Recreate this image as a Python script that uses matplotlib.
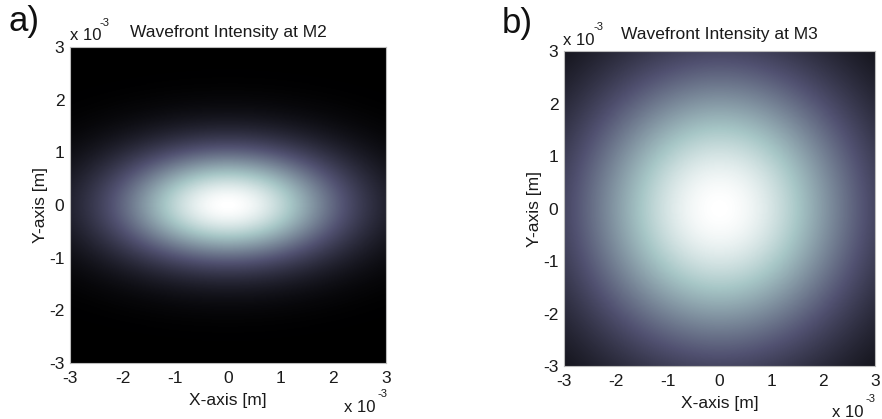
import numpy as np
import matplotlib
matplotlib.use("Agg")
import matplotlib.pyplot as plt

plt.rcParams['font.family'] = ['Liberation Sans', 'DejaVu Sans']

# --- data ---
tick_vals = [-3, -2, -1, 0, 1, 2, 3]          # in units of 1e-3 m
tick_labels = ['-3', '-2', '-1', '0', '1', '2', '3']
extent_mm = 3.0
titles = ['Wavefront Intensity at M2', 'Wavefront Intensity at M3']
panel_labels = ['a)', 'b)']
# Gaussian beam widths (1/e field radius, in 1e-3 m)
beam_wx = [2.2, 2.8]
beam_wy = [1.1, 2.8]

n = 300
coords = np.linspace(-extent_mm, extent_mm, n)
X, Y = np.meshgrid(coords, coords)

fig = plt.figure(figsize=(8.82, 4.19), dpi=100)
W, H = 882.0, 419.0
axes_px = [(70, 47, 386, 363), (564, 51, 875, 366)]  # left, top, right, bottom
label_px = [(8, 22), (502, 24)]
title_y = [32, 34]
top_off = [(70, 40, 26), (563, 45, 30)]       # x-left of "x 10", baselines
bot_off = [(376, 412, 397), (864, 417, 402)]  # x-right of "x 10", baselines
txt = '#1a1a1a'

def fy(py):
    return 1 - py / H

for i in range(2):
    l, t, r, b = axes_px[i]
    ax = fig.add_axes([l / W, 1 - b / H, (r - l) / W, (b - t) / H])
    I = np.exp(-(X / beam_wx[i]) ** 2 - (Y / beam_wy[i]) ** 2)
    ax.imshow(I, cmap='bone', origin='lower',
              extent=[-extent_mm, extent_mm, -extent_mm, extent_mm],
              vmin=0, vmax=1, aspect='auto', interpolation='bilinear')
    ax.set_xticks(tick_vals)
    ax.set_xticklabels(tick_labels)
    ax.set_yticks(tick_vals)
    ax.set_yticklabels(tick_labels)
    ax.tick_params(axis='x', direction='in', length=0, labelsize=12.5, pad=6, colors=txt)
    ax.tick_params(axis='y', direction='in', length=0, labelsize=12.5, pad=4, colors=txt)
    for s in ax.spines.values():
        s.set_color('#bbbbbb')
        s.set_linewidth(0.8)
    ax.set_xlabel('X-axis [m]', fontsize=12.5, labelpad=5, color=txt)
    ax.set_ylabel('Y-axis [m]', fontsize=12.5, labelpad=1, color=txt)
    fig.text((l + r) / 2 / W, fy(title_y[i]), titles[i], fontsize=12.5,
             ha='center', va='center', color=txt)
    # offset texts (x 10^-3)
    xo, b1, b2 = top_off[i]
    fig.text(xo / W, fy(b1), 'x 10', fontsize=12, ha='left', va='baseline', color=txt)
    fig.text((xo + 30) / W, fy(b2), '-3', fontsize=8, ha='left', va='baseline', color=txt)
    xr, b1, b2 = bot_off[i]
    fig.text(xr / W, fy(b1), 'x 10', fontsize=12, ha='right', va='baseline', color=txt)
    fig.text((xr + 2) / W, fy(b2), '-3', fontsize=8, ha='left', va='baseline', color=txt)
    lx, ly = label_px[i]
    fig.text(lx / W, fy(ly), panel_labels[i], fontsize=25, ha='left',
             va='center', color='#111111')

fig.savefig('out.png', dpi=100)
